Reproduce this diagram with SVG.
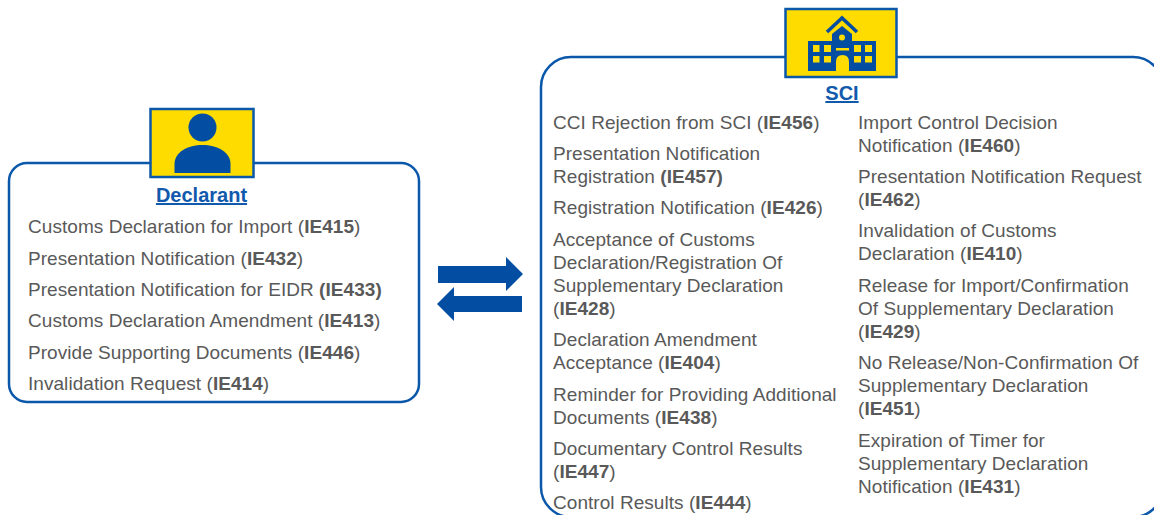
<svg xmlns="http://www.w3.org/2000/svg" width="1154" height="515" viewBox="0 0 1154 515">
<style>
.box{fill:#fff;stroke:#0b58ab;stroke-width:2.5}
.tile{fill:#ffdc00;stroke:#0b58ab;stroke-width:2.5}
.ic{fill:#034ea2}
.t{font-family:"Liberation Sans",Arial,sans-serif;font-size:19px;letter-spacing:.05px;fill:#595959}
.t tspan{font-weight:700}
.h{font-family:"Liberation Sans",Arial,sans-serif;font-size:20px;font-weight:700;fill:#1159ad;text-decoration:underline;text-anchor:middle}
</style>
<rect width="1154" height="515" fill="#fff"/>
<g id="declarant">
<rect class="box" x="9" y="163" width="410" height="239" rx="18"/>
<rect class="tile" x="150.500" y="109" width="103" height="68"/>
<circle class="ic" cx="202.500" cy="127.500" r="14"/>
<path class="ic" d="M174.500 173V164C174.500 152 188 145 202.500 145C217 145 230.500 152 230.500 164V173Z"/>
<text class="h" x="201.500" y="202">Declarant</text>
<text class="t" x="28" y="233">Customs Declaration for Import (<tspan>IE415</tspan>)</text>
<text class="t" x="28" y="265">Presentation Notification (<tspan>IE432</tspan>)</text>
<text class="t" x="28" y="296">Presentation Notification for EIDR <tspan>(IE433)</tspan></text>
<text class="t" x="28" y="327">Customs Declaration Amendment (<tspan>IE413</tspan>)</text>
<text class="t" x="28" y="359">Provide Supporting Documents (<tspan>IE446</tspan>)</text>
<text class="t" x="28" y="390">Invalidation Request (<tspan>IE414</tspan>)</text>
</g>
<g id="connectors">
<path class="ic" d="M438 266H506V257L523 274L506 291V283H438Z"/>
<path class="ic" d="M522 296H454V287L437 304L454 321V312H522Z"/>
</g>
<g id="sci">
<rect class="box" x="541" y="57" width="622" height="460" rx="30"/>
<rect class="tile" x="785.500" y="9" width="111" height="68"/>
<path class="ic" d="M808 71V41H832V34L842 26L852 34V41H876V71H849V62Q849 55 842.500 55Q836 55 836 62V71Z"/>
<path d="M827 32L842 18L857 32" fill="none" stroke="#034ea2" stroke-width="3.500"/>
<g fill="#ffdc00"><circle cx="842" cy="37.500" r="3"/><rect x="813" y="45" width="6.500" height="7"/><rect x="824" y="45" width="7" height="7"/><rect x="854" y="45" width="7" height="7"/><rect x="865" y="45" width="7" height="7"/><rect x="813" y="56" width="6.500" height="6.500"/><rect x="824" y="56" width="7" height="6.500"/><rect x="854" y="56" width="7" height="6.500"/><rect x="865" y="56" width="7" height="6.500"/><rect x="836" y="48" width="13" height="2.500"/></g>
<text class="h" x="842" y="100">SCI</text>
<text class="t" x="553" y="129">CCI Rejection from SCI (<tspan>IE456</tspan>)</text>
<text class="t" x="553" y="160">Presentation Notification</text>
<text class="t" x="553" y="183">Registration <tspan>(IE457)</tspan></text>
<text class="t" x="553" y="214">Registration Notification (<tspan>IE426</tspan>)</text>
<text class="t" x="553" y="246">Acceptance of Customs</text>
<text class="t" x="553" y="269">Declaration/Registration Of</text>
<text class="t" x="553" y="292">Supplementary Declaration</text>
<text class="t" x="553" y="315">(<tspan>IE428</tspan>)</text>
<text class="t" x="553" y="346">Declaration Amendment</text>
<text class="t" x="553" y="369">Acceptance (<tspan>IE404</tspan>)</text>
<text class="t" x="553" y="401">Reminder for Providing Additional</text>
<text class="t" x="553" y="424">Documents (<tspan>IE438</tspan>)</text>
<text class="t" x="553" y="455">Documentary Control Results</text>
<text class="t" x="553" y="478">(<tspan>IE447</tspan>)</text>
<text class="t" x="553" y="509">Control Results (<tspan>IE444</tspan>)</text>
<text class="t" x="858" y="129">Import Control Decision</text>
<text class="t" x="858" y="152">Notification (<tspan>IE460</tspan>)</text>
<text class="t" x="858" y="183">Presentation Notification Request</text>
<text class="t" x="858" y="206">(<tspan>IE462</tspan>)</text>
<text class="t" x="858" y="237">Invalidation of Customs</text>
<text class="t" x="858" y="260">Declaration (<tspan>IE410</tspan>)</text>
<text class="t" x="858" y="292">Release for Import/Confirmation</text>
<text class="t" x="858" y="315">Of Supplementary Declaration</text>
<text class="t" x="858" y="338">(<tspan>IE429</tspan>)</text>
<text class="t" x="858" y="369">No Release/Non-Confirmation Of</text>
<text class="t" x="858" y="392">Supplementary Declaration</text>
<text class="t" x="858" y="415">(<tspan>IE451</tspan>)</text>
<text class="t" x="858" y="447">Expiration of Timer for</text>
<text class="t" x="858" y="470">Supplementary Declaration</text>
<text class="t" x="858" y="493">Notification (<tspan>IE431</tspan>)</text>
</g>
</svg>
